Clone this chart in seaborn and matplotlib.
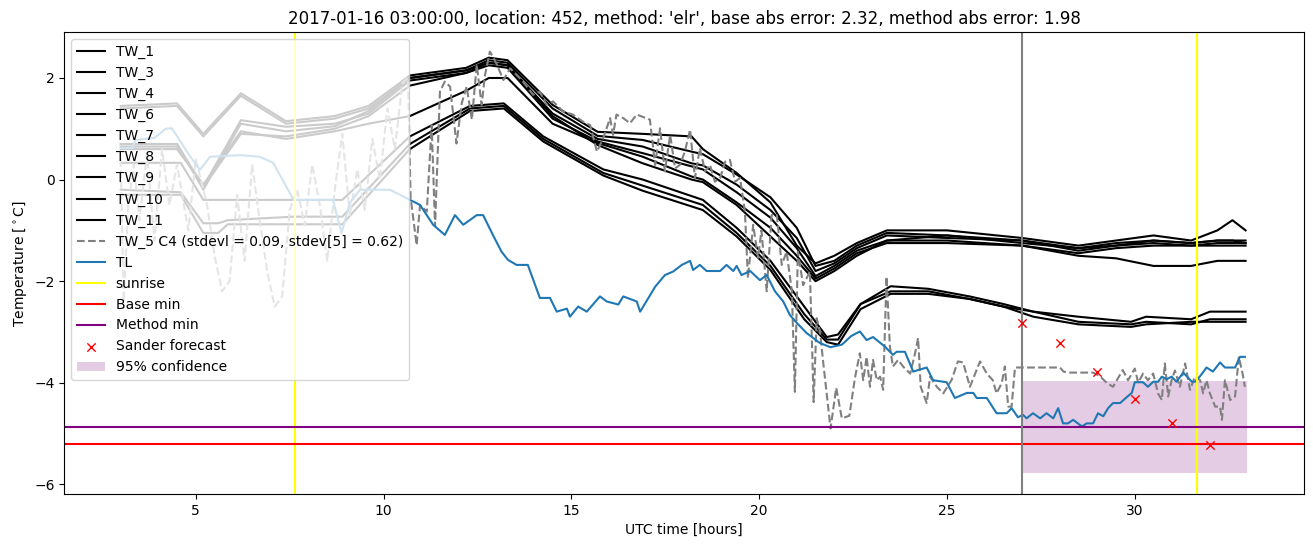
import matplotlib
matplotlib.use("Agg")
import matplotlib.pyplot as plt
import seaborn as sns
import numpy as np

# ---------------- data ----------------
title_text = ("2017-01-16 03:00:00, location: 452, method: 'elr', "
              "base abs error: 2.32, method abs error: 1.98")

upper_hours = [3.0, 4.5, 5.2, 6.2, 7.4, 8.7, 9.6, 10.7, 12.2, 12.8, 13.3, 14.5,
               15.7, 16.9, 18.2, 18.5, 19.4, 20.3, 21.0, 21.5, 22.0, 22.6, 23.4,
               25.0, 27.0, 28.5, 29.5, 30.5, 31.5, 32.2, 32.6, 32.95]
tw1_temp = [1.45, 1.5, 0.9, 1.7, 1.15, 1.25, 1.45, 2.05, 2.2, 2.4, 2.35, 1.47,
            0.94, 0.9, 0.85, 0.6, 0.13, -0.45, -1.3, -1.65, -1.5, -1.25, -1.0,
            -1.0, -1.15, -1.3, -1.2, -1.1, -1.2, -1.0, -0.8, -1.0]
tw3_temp = [1.4, 1.45, 0.85, 1.65, 1.1, 1.2, 1.4, 2.0, 2.15, 2.35, 2.3, 1.4,
            0.86, 0.78, 0.55, 0.5, 0.1, -0.35, -0.95, -1.7, -1.6, -1.3, -1.05,
            -1.1, -1.25, -1.35, -1.25, -1.2, -1.25, -1.2, -1.2, -1.2]
tw4_temp = [0.7, 0.7, -0.14, 1.17, 1.04, 1.1, 1.3, 1.95, 2.1, 2.3, 2.25, 1.3,
            0.8, 0.65, 0.32, 0.28, -0.1, -0.6, -1.15, -1.8, -1.65, -1.35, -1.1,
            -1.15, -1.2, -1.4, -1.3, -1.25, -1.3, -1.25, -1.25, -1.25]
tw6_temp = [0.65, 0.65, -0.15, 0.9, 0.85, 1.0, 1.25, 1.85, 2.1, 2.25, 2.2, 1.2,
            0.75, 0.52, 0.26, 0.2, -0.25, -0.75, -1.35, -1.9, -1.7, -1.4, -1.2,
            -1.2, -1.3, -1.45, -1.35, -1.3, -1.3, -1.3, -1.3, -1.3]
tw9_temp = [0.6, 0.6, -0.1, 0.95, 0.8, 0.95, 1.1, 1.25, 1.75, 2.0, 2.0, 1.1,
            0.72, 0.45, 0.06, 0.0, -0.45, -0.95, -1.5, -1.95, -1.75, -1.45, -1.25,
            -1.25, -1.3, -1.5, -1.55, -1.7, -1.7, -1.6, -1.6, -1.6]
tw11_temp = [0.7, 0.7, -0.2, 1.1, 0.95, 1.05, 1.35, 2.0, 2.15, 2.3, 2.25, 1.25,
             0.68, 0.32, 0.0, -0.05, -0.5, -1.12, -1.6, -2.0, -1.8, -1.5, -1.2,
             -1.1, -1.2, -1.35, -1.3, -1.2, -1.25, -1.2, -1.2, -1.25]

lower_hours = [3.0, 4.6, 5.2, 5.6, 5.85, 7.6, 8.9, 10.7, 12.3, 13.2, 14.25, 15.85,
               16.9, 18.5, 19.4, 20.3, 21.2, 21.8, 22.1, 22.7, 23.5, 24.5, 25.6,
               26.5, 27.3, 28.5, 29.9, 30.3, 31.5, 32.0, 32.5, 32.95]
tw7_temp = [0.33, 0.33, -0.4, -0.4, -0.4, -0.4, -0.4, 0.85, 1.45, 1.5, 0.85, 0.2,
            0.0, -0.4, -0.95, -1.6, -2.5, -3.1, -3.05, -2.45, -2.1, -2.15, -2.3,
            -2.45, -2.6, -2.7, -2.8, -2.7, -2.75, -2.6, -2.6, -2.6]
tw8_temp = [-0.2, -0.25, -0.86, -0.86, -0.8, -0.73, -0.73, 0.7, 1.4, 1.45, 0.8, 0.13,
            -0.12, -0.5, -1.05, -1.7, -2.65, -3.15, -3.15, -2.45, -2.2, -2.2, -2.35,
            -2.5, -2.6, -2.8, -2.85, -2.8, -2.85, -2.75, -2.75, -2.75]
tw10_temp = [-0.3, -0.3, -1.05, -1.05, -0.88, -0.88, -0.88, 0.6, 1.35, 1.4, 0.75, 0.08,
             -0.22, -0.6, -1.12, -1.78, -2.75, -3.2, -3.25, -2.55, -2.25, -2.25, -2.35,
             -2.5, -2.7, -2.85, -2.9, -2.85, -2.8, -2.8, -2.8, -2.8]

tw5_points = [
    (3.0, 0.4), (3.08, -2.4), (3.2, -0.5), (3.35, 0.3), (3.5, -0.8), (3.7, 0.5),
    (3.9, -1.2), (4.1, 0.6), (4.3, -0.5), (4.5, 0.3), (4.8, -1.0), (5.0, 0.4),
    (5.3, -0.5), (5.5, -1.5), (5.7, -2.2), (5.9, -2.0), (6.1, -0.3), (6.3, -1.6),
    (6.5, 0.3), (6.7, -0.8), (6.9, -1.8), (7.1, -2.5), (7.3, -2.3), (7.5, -0.6),
    (7.7, -0.2), (7.9, -0.9), (8.1, 0.3), (8.3, -0.5), (8.5, -1.6), (8.7, -0.2),
    (8.9, 0.9), (9.1, -0.7), (9.3, 0.2), (9.5, -0.6), (9.7, 0.8), (9.9, 0.0),
    (10.1, 1.4), (10.3, 0.6), (10.5, 1.9), (10.65, 2.0), (10.72, -0.36),
    (10.88, -1.29), (10.97, -0.5), (11.15, -0.63), (11.28, 1.07), (11.37, -0.92),
    (11.5, 1.73), (11.63, 1.93), (11.77, 1.83), (11.94, 0.71), (12.08, 1.5),
    (12.21, 1.83), (12.35, 1.18), (12.48, 2.26), (12.61, 1.47), (12.7, 2.06),
    (12.83, 2.52), (13.0, 2.29), (13.19, 1.96), (13.37, 2.19), (13.54, 2.06),
    (13.71, 1.93), (13.98, 1.67), (14.16, 1.73), (14.34, 1.47), (14.51, 1.54),
    (14.78, 1.34), (15.04, 1.28), (15.31, 1.14), (15.5, 1.07), (15.68, 0.55),
    (15.85, 0.82), (16.03, 1.21), (16.11, 0.88), (16.2, 1.28), (16.38, 1.21),
    (16.56, 1.11), (16.74, 1.28), (17.09, 1.18), (17.23, 0.29), (17.36, 1.01),
    (17.49, 0.16), (17.63, 0.88), (17.76, 0.22), (17.89, 0.29), (18.02, 0.55),
    (18.16, 0.98), (18.29, 0.03), (18.42, 0.62), (18.56, 0.16), (18.69, 0.29),
    (18.82, -0.04), (18.96, 0.03), (19.09, 0.35), (19.22, 0.39), (19.36, -0.04),
    (19.49, 0.03), (19.62, -0.63), (19.7, -1.94), (19.84, -0.89), (19.97, -1.54),
    (20.06, -1.0), (20.2, -2.2), (20.33, -0.7), (20.47, -0.7), (20.6, -1.68),
    (20.73, -1.42), (20.87, -2.2), (20.95, -4.18), (21.03, -1.42), (21.17, -2.08),
    (21.35, -1.81), (21.45, -4.38), (21.53, -2.73), (21.62, -3.0), (21.7, -3.57),
    (21.9, -4.9), (22.05, -4.1), (22.2, -4.7), (22.4, -4.65), (22.55, -3.9),
    (22.68, -3.42), (22.77, -3.95), (22.86, -3.49), (22.95, -4.08), (23.03, -3.55),
    (23.13, -3.95), (23.22, -3.88), (23.3, -4.14), (23.39, -1.91), (23.48, -3.29),
    (23.56, -3.68), (23.7, -3.55), (23.83, -3.68), (24.02, -3.82), (24.15, -3.42),
    (24.23, -3.12), (24.3, -4.08), (24.46, -4.4), (24.55, -3.88), (24.73, -4.08),
    (24.9, -4.21), (25.12, -3.95), (25.29, -3.58), (25.43, -3.6), (25.61, -4.08),
    (25.79, -3.75), (25.88, -3.58), (26.06, -3.82), (26.22, -3.95), (26.32, -4.21),
    (26.46, -4.0), (26.54, -3.68), (26.63, -4.47), (26.72, -4.47), (26.81, -3.7),
    (28.01, -3.7), (28.1, -3.78), (28.28, -3.8), (28.89, -3.8), (29.07, -3.87),
    (29.25, -4.0), (29.42, -4.08), (29.68, -3.75), (29.82, -3.95), (30.0, -3.72),
    (30.09, -4.0), (30.22, -3.82), (30.35, -3.95), (30.49, -3.82), (30.62, -4.21),
    (30.72, -4.34), (30.8, -3.62), (30.89, -4.27), (30.98, -3.95), (31.07, -3.76),
    (31.2, -4.08), (31.34, -3.62), (31.47, -4.14), (31.6, -3.88), (31.74, -3.95),
    (31.82, -4.21), (31.91, -3.95), (32.0, -4.21), (32.14, -4.47), (32.27, -4.47),
    (32.32, -4.73), (32.4, -3.95), (32.54, -4.34), (32.67, -4.27), (32.77, -3.49),
    (32.87, -3.82), (32.93, -4.08),
]

tl_points = [
    (3.0, 0.62), (3.3, 0.62), (3.4, 0.78), (3.9, 0.82), (4.2, 1.0), (4.36, 1.01),
    (4.55, 0.8), (4.79, 0.52), (5.11, 0.19), (5.38, 0.45), (6.2, 0.48), (6.7, 0.45),
    (7.06, 0.33), (7.5, -0.26), (7.6, -0.4), (8.65, -0.4), (8.88, -1.05), (9.1, -0.46),
    (9.37, -0.2), (10.17, -0.2), (10.7, -0.4), (10.97, -0.5), (11.32, -0.89),
    (11.63, -1.09), (11.9, -0.7), (12.12, -0.89), (12.48, -0.7), (12.65, -0.7),
    (12.91, -1.09), (13.14, -1.42), (13.31, -1.58), (13.54, -1.68), (13.84, -1.68),
    (14.16, -2.33), (14.43, -2.33), (14.61, -2.6), (14.88, -2.54), (14.96, -2.7),
    (15.18, -2.5), (15.41, -2.6), (15.76, -2.3), (15.94, -2.4), (16.25, -2.46),
    (16.38, -2.3), (16.74, -2.4), (16.83, -2.6), (17.23, -2.11), (17.49, -1.88),
    (17.71, -1.81), (17.94, -1.68), (18.16, -1.6), (18.24, -1.78), (18.42, -1.68),
    (18.6, -1.8), (18.96, -1.8), (19.13, -1.68), (19.31, -1.8), (19.4, -1.7),
    (19.53, -1.88), (19.76, -1.8), (20.02, -1.98), (20.2, -1.88), (20.42, -2.2),
    (20.64, -2.4), (20.82, -2.67), (21.0, -2.82), (21.26, -3.02), (21.62, -3.22),
    (21.9, -3.3), (22.2, -3.25), (22.45, -3.08), (22.68, -2.99), (22.86, -3.16),
    (23.03, -3.1), (23.35, -3.29), (23.56, -3.45), (23.66, -3.39), (23.88, -3.39),
    (24.1, -3.78), (24.46, -3.7), (24.63, -3.95), (24.99, -3.99), (25.21, -4.3),
    (25.53, -4.2), (25.7, -4.2), (25.79, -4.3), (26.06, -4.3), (26.32, -4.6),
    (26.59, -4.6), (26.72, -4.5), (26.89, -4.68), (27.02, -4.63), (27.12, -4.7),
    (27.29, -4.6), (27.48, -4.7), (27.65, -4.6), (27.83, -4.7), (27.96, -4.5),
    (28.09, -4.8), (28.22, -4.8), (28.36, -4.73), (28.59, -4.86), (28.72, -4.8),
    (28.89, -4.8), (29.02, -4.6), (29.16, -4.66), (29.29, -4.5), (29.42, -4.4),
    (29.61, -4.4), (29.79, -4.28), (29.92, -4.2), (30.0, -3.99), (30.22, -3.99),
    (30.35, -4.08), (30.49, -3.98), (30.62, -3.98), (30.72, -3.88), (30.85, -3.93),
    (30.98, -3.88), (31.11, -3.98), (31.29, -3.8), (31.52, -3.98), (31.6, -3.98),
    (31.74, -3.87), (31.91, -3.7), (32.08, -3.78), (32.27, -3.6), (32.4, -3.7),
    (32.67, -3.7), (32.8, -3.49), (32.93, -3.49),
]

sunrise_hours = [7.63, 31.65]
forecast_time = 27.0
base_min = -5.21
method_min = -4.88
sander_hours = [27, 28, 29, 30, 31, 32]
sander_temp = [-2.82, -3.21, -3.79, -4.31, -4.79, -5.22]
conf_hours = [27.0, 33.0]
conf_low = -5.77
conf_high = -3.97

tw_series = [
    ("TW_1", upper_hours, tw1_temp),
    ("TW_3", upper_hours, tw3_temp),
    ("TW_4", upper_hours, tw4_temp),
    ("TW_6", upper_hours, tw6_temp),
    ("TW_7", lower_hours, tw7_temp),
    ("TW_8", lower_hours, tw8_temp),
    ("TW_9", upper_hours, tw9_temp),
    ("TW_10", lower_hours, tw10_temp),
    ("TW_11", upper_hours, tw11_temp),
]

# ---------------- plot ----------------
fig = plt.figure(figsize=(13.13, 5.47), dpi=100)
ax = fig.add_axes([0.049, 0.0969, 0.944, 0.8441])

for name, hrs, temps in tw_series:
    sns.lineplot(x=hrs, y=temps, ax=ax, color="black", label=name,
                 estimator=None, sort=False, linewidth=1.5)

tw5_h, tw5_t = zip(*tw5_points)
sns.lineplot(x=list(tw5_h), y=list(tw5_t), ax=ax, color="gray", linestyle="--",
             label="TW_5 C4 (stdevl = 0.09, stdev[5] = 0.62)",
             estimator=None, sort=False, linewidth=1.5)

tl_h, tl_t = zip(*tl_points)
sns.lineplot(x=list(tl_h), y=list(tl_t), ax=ax, color="#1f77b4", label="TL",
             estimator=None, sort=False, linewidth=1.5)

ax.axvline(sunrise_hours[0], color="yellow", label="sunrise")
ax.axvline(sunrise_hours[1], color="yellow")
ax.axhline(base_min, color="red", label="Base min")
ax.axhline(method_min, color="purple", label="Method min")
ax.axvline(forecast_time, color="gray")

sns.scatterplot(x=sander_hours, y=sander_temp, ax=ax, marker="x", color="red",
                s=36, linewidth=1.0, label="Sander forecast", zorder=3)

ax.fill_between(conf_hours, [conf_low] * 2, [conf_high] * 2, color="purple",
                alpha=0.2, linewidth=0, label="95% confidence")

ax.set_xlim(1.5, 34.5)
ax.set_ylim(-6.19, 2.90)
ax.set_xlabel("UTC time [hours]")
ax.set_ylabel(r"Temperature [$^\circ$C]")
ax.set_title(title_text)
ax.legend(loc="upper left")

fig.savefig("out.png", dpi=100)
